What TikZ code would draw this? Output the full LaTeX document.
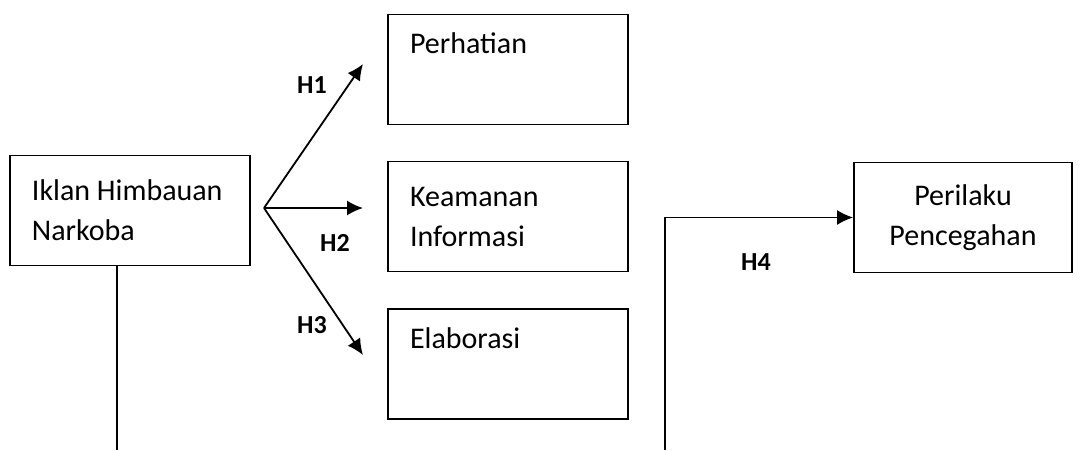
\documentclass[tikz,border=0pt]{standalone}
\usepackage{fontspec}
\setmainfont{Carlito}
\usetikzlibrary{arrows.meta, positioning, calc}

\begin{document}
\begin{tikzpicture}[x=0.5pt, y=-0.5pt,
        box/.style={draw, line width=0.9pt, minimum width=120pt, minimum height=55pt,
            text width=98pt, inner xsep=11pt, align=flush left, font=\fontsize{15}{20}\selectfont},
        hlabel/.style={font=\fontsize{13}{15}\selectfont\bfseries},
        link/.style={line width=0.9pt, -{Latex[length=8pt, width=7.5pt]}}]
        \useasboundingbox (0,0) rectangle (1082,450);

        \node[box] (iklan) at (130,210.5) {Iklan Himbauan\\Narkoba};
        \node[box] (perhatian) at (508,69.5) {Perhatian\\\strut};
        \node[box] (keamanan) at (508,216.5) {Keamanan\\Informasi};
        \node[box] (elaborasi) at (508,364) {Elaborasi\\\strut};
        \node[box, minimum width=109pt, text width=87pt, align=center] (perilaku) at (963,217.5) {Perilaku\\Pencegahan};

        \coordinate (split) at (264,208);
        \coordinate (tip1) at (363,64);
        \coordinate (tip2) at (363,208);
        \coordinate (tip3) at (363,355);
        \draw[link] (split) -- (tip1);
        \draw[link] (split) -- (tip2);
        \draw[link] (split) -- (tip3);

        \node[hlabel] (h1) at (312,85) {H1};
        \node[hlabel] (h2) at (335,243) {H2};
        \node[hlabel] (h3) at (312,325) {H3};

        % lines running off the page
        \coordinate (down) at (117,450);
        \draw[line width=0.9pt] (down |- iklan.south) -- (down);
        \coordinate (up) at (665,450);
        \draw[link] (up) |- (perilaku.west);
        \node[hlabel] (h4) at (756,262) {H4};
    \end{tikzpicture}
\end{document}
